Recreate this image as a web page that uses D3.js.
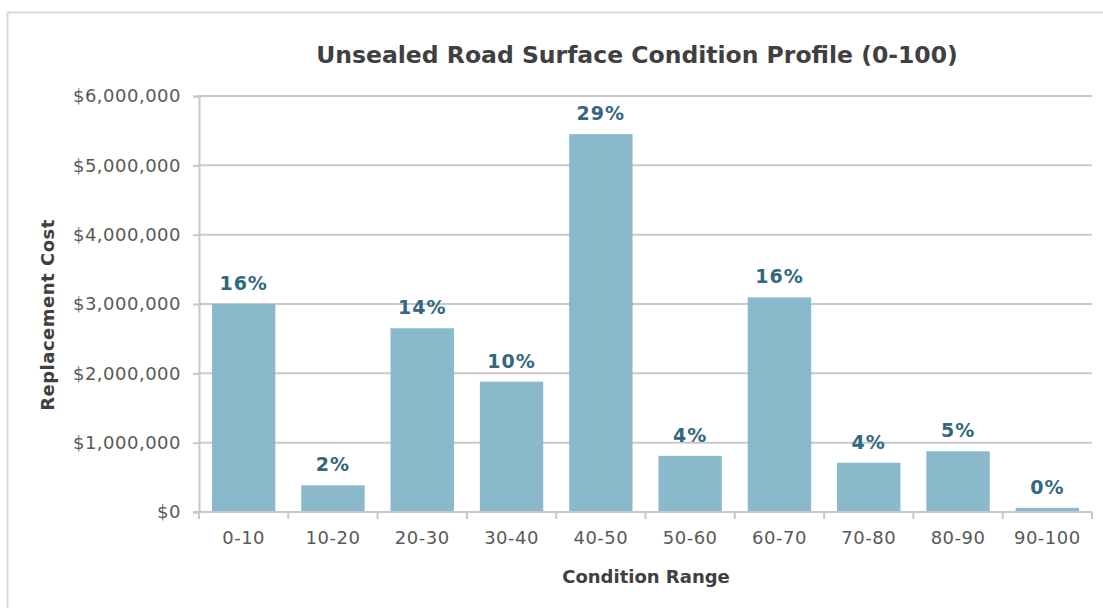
<!DOCTYPE html>
<html>
<head>
<meta charset="utf-8">
<script src="https://cdn.jsdelivr.net/npm/d3@7"></script>
<style>
  html, body { margin: 0; padding: 0; background: #fff; }
  svg { display: block; font-family: "DejaVu Sans", Verdana, sans-serif; }
</style>
</head>
<body>
<svg id="chart" width="1103" height="608"></svg>
<script>
// Condition ranges and the replacement cost of unsealed road surface in each
const categories = ["0-10", "10-20", "20-30", "30-40", "40-50", "50-60", "60-70", "70-80", "80-90", "90-100"];
const replacementCost = [3000000, 385000, 2650000, 1880000, 5450000, 810000, 3095000, 710000, 875000, 60000];
const yTicks = [0, 1000000, 2000000, 3000000, 4000000, 5000000, 6000000];

const svg = d3.select("#chart");
const W = 1103, H = 608;
const margin = { left: 199, right: 11, top: 96, bottom: 96 };
const plotW = W - margin.left - margin.right;
const plotH = H - margin.top - margin.bottom;

// outer frame
svg.append("rect")
  .attr("x", 7.5).attr("y", 12.5)
  .attr("width", 1110).attr("height", 620)
  .attr("fill", "none").attr("stroke", "#d9d9d9").attr("stroke-width", 2);

const x = d3.scaleBand().domain(categories).range([0, plotW]).paddingInner(0.29).paddingOuter(0.145);
const y = d3.scaleLinear().domain([0, 6000000]).range([plotH, 0]);

const g = svg.append("g").attr("transform", `translate(${margin.left},${margin.top})`);

// horizontal gridlines
g.append("g").selectAll("line").data(yTicks.slice(1)).join("line")
  .attr("x1", 0).attr("x2", plotW)
  .attr("y1", d => y(d)).attr("y2", d => y(d))
  .attr("stroke", "#c8c8c8").attr("stroke-width", 2);

// y axis
const yAxis = g.append("g")
  .call(d3.axisLeft(y).tickValues(yTicks).tickSize(6).tickPadding(12)
    .tickFormat(d => "$" + d3.format(",")(d)));
yAxis.select(".domain").attr("stroke", "#c8c8c8").attr("stroke-width", 2);
yAxis.selectAll(".tick line").attr("stroke", "#c8c8c8").attr("stroke-width", 2);
yAxis.selectAll(".tick text")
  .attr("fill", "#595959").attr("font-size", 18).attr("letter-spacing", 0.5)
  .attr("font-family", "DejaVu Sans");

// bars
g.append("g").selectAll("rect").data(replacementCost).join("rect")
  .attr("x", (d, i) => x(categories[i]))
  .attr("width", x.bandwidth())
  .attr("y", d => y(d))
  .attr("height", d => plotH - y(d))
  .attr("fill", "#89b9cb");

// x axis (drawn over bar bottoms)
const band = plotW / categories.length;
const xAxis = g.append("g").attr("transform", `translate(0,${plotH})`);
xAxis.append("line").attr("x1", -6).attr("x2", plotW).attr("y1", 0).attr("y2", 0)
  .attr("stroke", "#c8c8c8").attr("stroke-width", 2);
xAxis.selectAll("line.tk").data(d3.range(categories.length + 1)).join("line")
  .attr("class", "tk")
  .attr("x1", i => i * band).attr("x2", i => i * band)
  .attr("y1", 0).attr("y2", 7)
  .attr("stroke", "#c8c8c8").attr("stroke-width", 2);
xAxis.selectAll("text").data(categories).join("text")
  .attr("x", d => x(d) + x.bandwidth() / 2)
  .attr("y", 32)
  .attr("text-anchor", "middle")
  .attr("fill", "#595959").attr("font-size", 18).attr("letter-spacing", 0.5)
  .text(d => d);

// share-of-total labels above bars
const total = d3.sum(replacementCost);
g.append("g").selectAll("text").data(replacementCost).join("text")
  .attr("x", (d, i) => x(categories[i]) + x.bandwidth() / 2)
  .attr("y", d => y(d) - 14)
  .attr("text-anchor", "middle")
  .attr("fill", "#31687d").attr("font-size", 19).attr("font-weight", "bold")
  .attr("letter-spacing", 1)
  .text(d => Math.round(d / total * 100) + "%");

// titles
svg.append("text")
  .attr("x", 637).attr("y", 63)
  .attr("text-anchor", "middle")
  .attr("fill", "#404040").attr("font-size", 23.5).attr("font-weight", "bold")
  .text("Unsealed Road Surface Condition Profile (0-100)");

svg.append("text")
  .attr("x", 646).attr("y", 583)
  .attr("text-anchor", "middle")
  .attr("fill", "#404040").attr("font-size", 18).attr("font-weight", "bold")
  .text("Condition Range");

svg.append("text")
  .attr("transform", "translate(54,315) rotate(-90)")
  .attr("text-anchor", "middle")
  .attr("fill", "#404040").attr("font-size", 18).attr("font-weight", "bold")
  .attr("letter-spacing", 0.5)
  .text("Replacement Cost");
</script>
</body>
</html>
